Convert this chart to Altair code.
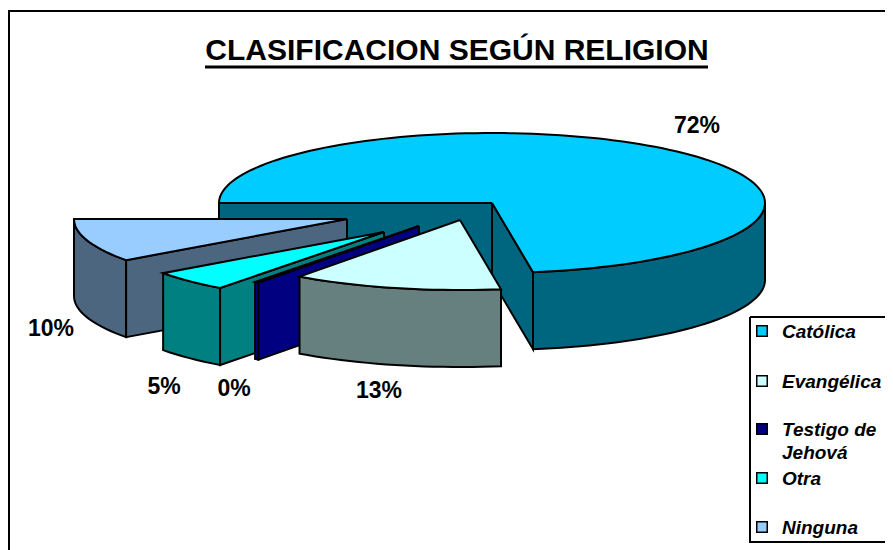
import math
import altair as alt
import pandas as pd

# Chart values
categories = ["Católica", "Evangélica", "Testigo de Jehová", "Otra", "Ninguna"]
shares = [72.6, 12.4, 0.25, 4.75, 10.0]
pct_labels = ["72%", "13%", "0%", "5%", "10%"]
top_colors = ["#00CCFF", "#CCFFFF", "#000080", "#00FFFF", "#99CCFF"]
wall_colors = ["#006680", "#668080", "#000080", "#008080", "#4D6680"]
title_text = "CLASIFICACION SEGÚN RELIGION"

# Pie layout (3D projection of the exploded pie)
RX, RY, DEPTH = 273, 70, 77
START = 270
apexes = {"Católica": (492, 203), "Evangélica": (460, 220), "Testigo de Jehová": (419, 226),
          "Otra": (384, 232), "Ninguna": (347, 219)}
draw_order = ["Católica", "Ninguna", "Otra", "Testigo de Jehová", "Evangélica"]
label_pos = {"Católica": (697, 126), "Evangélica": (379, 391), "Testigo de Jehová": (234, 389),
             "Otra": (164, 387), "Ninguna": (51, 329)}
legend_rows = [("Católica", 332), ("Evangélica", 382), ("Testigo de", 430), ("Jehová", 453), ("Otra", 479), ("Ninguna", 528)]


def pt(apex, a, dz=0):
    r = math.radians(a)
    return apex[0] + RX * math.sin(r), apex[1] - RY * math.cos(r) + dz


def arc(apex, a0, a1, dz=0):
    n = max(2, int(abs(a1 - a0) / 2))
    return [pt(apex, a0 + (a1 - a0) * i / n, dz) for i in range(n + 1)]


spans = {}
a = START
for c, s in zip(categories, shares):
    spans[c] = (a, a + s * 3.6)
    a += s * 3.6

rows = []
pid = 0


def poly(points, fill):
    global pid
    pts = list(points) + [points[0]]
    for i, (x, y) in enumerate(pts):
        rows.append({"pid": f"{pid:03d}", "i": i, "x": x, "y": y, "fill": fill})
    pid += 1


def radial_wall(apex, ang, fill):
    e = pt(apex, ang)
    poly([apex, e, (e[0], e[1] + DEPTH), (apex[0], apex[1] + DEPTH)], fill)


def outer_wall(apex, a0, a1, fill):
    poly(arc(apex, a0, a1) + arc(apex, a1, a0, DEPTH), fill)


for c in draw_order:
    idx = categories.index(c)
    apex = apexes[c]
    a0, a1 = spans[c]
    top, wall = top_colors[idx], wall_colors[idx]
    if c == "Católica":
        radial_wall(apex, a0, wall)
        radial_wall(apex, a1, wall)
        outer_wall(apex, 450, a1, wall)
    elif c == "Evangélica":
        outer_wall(apex, a0, a1, wall)
    else:
        outer_wall(apex, a0, a1, wall)
        radial_wall(apex, a0, wall)
    poly([apex] + arc(apex, a0, a1), top)

# Legend box
poly([(750, 317), (900, 317), (900, 542), (750, 542)], "#FFFFFF")

df = pd.DataFrame(rows)
X = alt.X("x:Q", scale=alt.Scale(domain=[8, 885], zero=False, nice=False), axis=None)
Y = alt.Y("y:Q", scale=alt.Scale(domain=[550, 8], zero=False, nice=False), axis=None)

polys = alt.Chart(df).mark_line(stroke="black", strokeWidth=2, strokeJoin="miter", clip=True, interpolate="linear").encode(
    x=X, y=Y, detail="pid:N", order="i:Q", fill=alt.Fill("fill:N", scale=None, legend=None)
)

frame = alt.Chart(pd.DataFrame({"x": [9, 9, 893], "y": [550, 11, 11], "i": [0, 1, 2]})).mark_line(
    stroke="black", strokeWidth=2, clip=True).encode(x=X, y=Y, order="i:Q")

title = alt.Chart(pd.DataFrame({"x": [457], "y": [51], "t": [title_text]})).mark_text(
    font="Liberation Sans", fontWeight="bold", fontSize=30, color="black", align="center", baseline="middle"
).encode(x=X, y=Y, text="t:N")
underline = alt.Chart(pd.DataFrame({"x": [205, 708], "y": [67, 67]})).mark_line(
    stroke="black", strokeWidth=3).encode(x=X, y=Y)

labels_df = pd.DataFrame({
    "x": [label_pos[c][0] for c in categories],
    "y": [label_pos[c][1] for c in categories],
    "t": pct_labels,
})
labels = alt.Chart(labels_df).mark_text(
    font="Liberation Sans", fontWeight="bold", fontSize=23, color="black", align="center", baseline="middle"
).encode(x=X, y=Y, text="t:N")

legend_text_df = pd.DataFrame({"x": [782] * len(legend_rows), "y": [r[1] for r in legend_rows], "t": [r[0] for r in legend_rows]})
legend_text = alt.Chart(legend_text_df).mark_text(
    font="Liberation Sans", fontWeight="bold", fontStyle="italic", fontSize=19, color="black", align="left", baseline="middle"
).encode(x=X, y=Y, text="t:N")

sym_y = [331, 381, 429, 478, 527]
legend_sym = alt.Chart(pd.DataFrame({"x": [762] * 5, "y": sym_y, "c": top_colors})).mark_square(
    size=110, stroke="black", strokeWidth=1.5, opacity=1, filled=True
).encode(x=X, y=Y, fill=alt.Fill("c:N", scale=None, legend=None))

chart = alt.layer(frame, polys, title, underline, labels, legend_sym, legend_text).properties(
    width=877, height=542, padding=0, autosize=alt.AutoSizeParams(type="none"), background="white"
).configure_view(stroke=None)

chart.save("out.html", embed_options={"renderer": "svg", "actions": False})
